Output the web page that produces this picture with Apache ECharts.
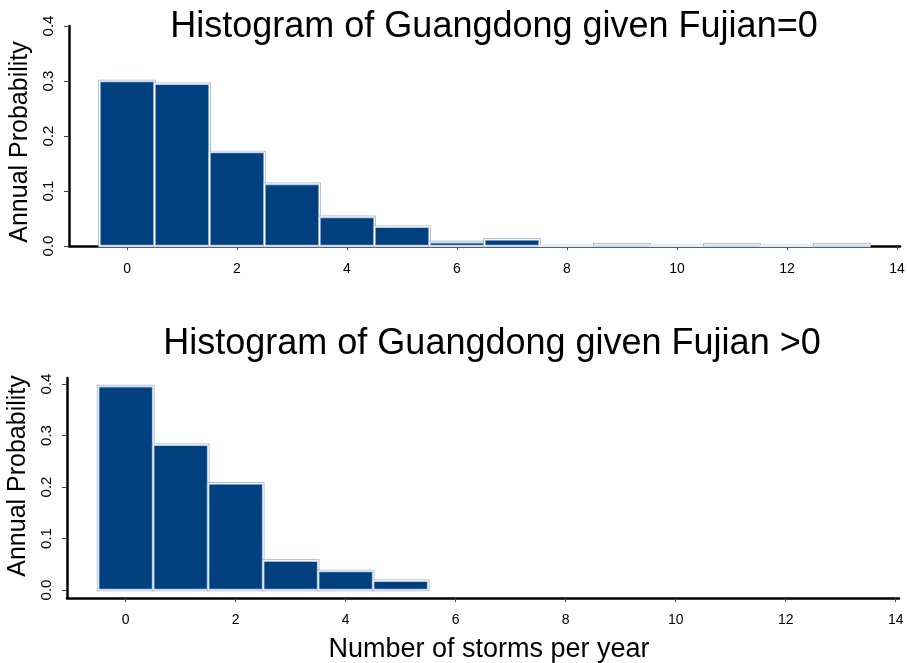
<!DOCTYPE html>
<html>
<head>
<meta charset="utf-8">
<script src="https://cdn.jsdelivr.net/npm/echarts@6/dist/echarts.min.js"></script>
<style>
html,body{margin:0;padding:0;background:#fff;}
#chart{width:907px;height:663px;}
</style>
</head>
<body>
<div id="chart"></div>
<script>
// Number of storms per year (bin centres)
const stormCounts = [0, 1, 2, 3, 4, 5, 6, 7, 8, 9, 10, 11, 12, 13];
// Annual probability, Guangdong given Fujian = 0
const probFujianZero = [0.300, 0.295, 0.171, 0.113, 0.053, 0.035, 0.007, 0.012, 0.000, 0.003, 0.000, 0.003, 0.000, 0.003];
// Annual probability, Guangdong given Fujian > 0
const probFujianPos = [0.396, 0.282, 0.207, 0.057, 0.037, 0.018];
// Tick labels
const xTicks = [0, 2, 4, 6, 8, 10, 12, 14];
const yTicks = [0, 0.1, 0.2, 0.3, 0.4];

const titles = ['Histogram of Guangdong given Fujian=0', 'Histogram of Guangdong given Fujian >0'];
const yName = 'Annual Probability';
const xName = 'Number of storms per year';

const FONT = "'Liberation Sans', Arial, Helvetica, sans-serif";
const FILL = '#00407f';

function toBins(counts, probs) {
  return probs.map((p, i) => [counts[i] - 0.5, counts[i] + 0.5, p]);
}

function renderItem(params, api) {
  const lo = api.value(0), hi = api.value(1), v = api.value(2);
  const p0 = api.coord([lo, v]);
  const p1 = api.coord([hi, 0]);
  const shape = { x: p0[0], y: p0[1], width: p1[0] - p0[0], height: p1[1] - p0[1] };
  return {
    type: 'group',
    children: [
      { type: 'rect', shape: shape, style: { fill: FILL, stroke: '#9fb6d4', lineWidth: 2.6 } },
      { type: 'rect', shape: shape, style: { fill: 'none', stroke: '#ffffff', lineWidth: 1 } }
    ]
  };
}

function xAxisCfg(gridIndex, min, max, margin, withName) {
  const cfg = {
    type: 'value', gridIndex: gridIndex, min: min, max: max,
    splitLine: { show: false },
    axisLine: { show: true, onZero: false, lineStyle: { color: '#000', width: 2.5 } },
    axisTick: { show: true, customValues: xTicks, length: 4, lineStyle: { color: '#444', width: 1 } },
    axisLabel: { customValues: xTicks, fontSize: 14, color: '#000', fontFamily: FONT, margin: margin }
  };
  if (withName) {
    cfg.name = xName;
    cfg.nameLocation = 'middle';
    cfg.nameGap = 38;
    cfg.nameTextStyle = { fontSize: 27, color: '#000', fontFamily: FONT, padding: [0, 0, 0, 12] };
  }
  return cfg;
}

function yAxisCfg(gridIndex, min, max, pad) {
  return {
    type: 'value', gridIndex: gridIndex, min: min, max: max,
    name: yName, nameLocation: 'middle', nameGap: 29,
    nameTextStyle: { fontSize: 25, color: '#000', fontFamily: FONT, padding: pad },
    splitLine: { show: false },
    axisLine: { show: true, onZero: false, lineStyle: { color: '#000', width: 2.5 } },
    axisTick: { show: true, customValues: yTicks, length: 5, lineStyle: { color: '#444', width: 1 } },
    axisLabel: { customValues: yTicks, rotate: 90, fontSize: 15, color: '#000', fontFamily: FONT, margin: 13,
      formatter: v => v.toFixed(1) }
  };
}

const chart = echarts.init(document.getElementById('chart'), null, { renderer: 'canvas' });
chart.setOption({
  animation: false,
  backgroundColor: '#fff',
  title: [
    { text: titles[0], left: 489, top: 4, textAlign: 'center',
      textStyle: { fontSize: 36, fontWeight: 'normal', color: '#000', fontFamily: FONT } },
    { text: titles[1], left: 487, top: 321, textAlign: 'center',
      textStyle: { fontSize: 36, fontWeight: 'normal', color: '#000', fontFamily: FONT } }
  ],
  grid: [
    { left: 69, top: 26, width: 831, height: 220, containLabel: false, outerBoundsMode: 'none' },
    { left: 67, top: 378, width: 832, height: 220, containLabel: false, outerBoundsMode: 'none' }
  ],
  xAxis: [
    xAxisCfg(0, -1.055, 14.055, 16, false),
    xAxisCfg(1, -1.067, 14.06, 15, true)
  ],
  yAxis: [
    yAxisCfg(0, 0, 0.4, [0, 12, 0, 0]),
    yAxisCfg(1, -0.0155, 0.4117, [0, 0, 0, 24])
  ],
  series: [
    { type: 'custom', xAxisIndex: 0, yAxisIndex: 0, renderItem: renderItem, z: 5,
      data: toBins(stormCounts, probFujianZero) },
    { type: 'custom', xAxisIndex: 1, yAxisIndex: 1, renderItem: renderItem, z: 5,
      data: toBins(stormCounts, probFujianPos) }
  ]
});
</script>
</body>
</html>
